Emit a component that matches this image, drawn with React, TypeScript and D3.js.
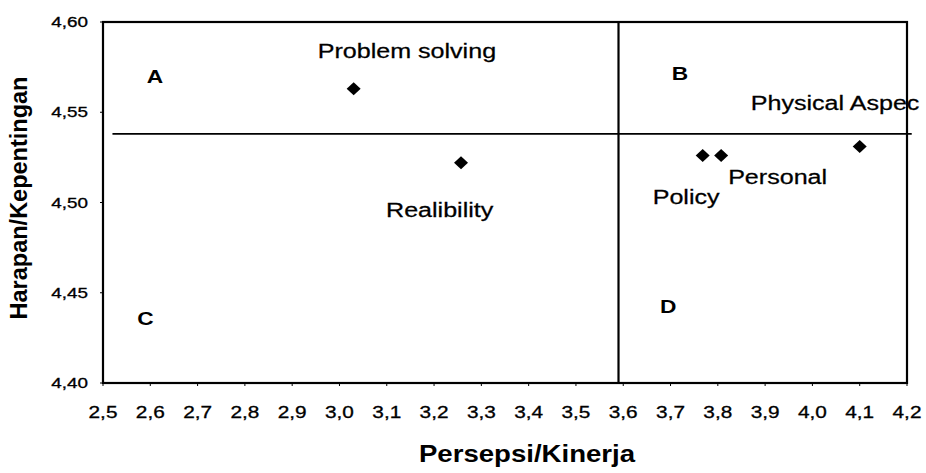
import React from "react";
import * as d3 from "d3";

// ---- data ----
const names = ["Problem solving", "Realibility", "Policy", "Personal", "Physical Aspec"];
const perceptions = [3.03, 3.257, 3.768, 3.807, 4.1];
const expectations = [4.563, 4.522, 4.526, 4.526, 4.531];
const xTicks = [2.5, 2.6, 2.7, 2.8, 2.9, 3.0, 3.1, 3.2, 3.3, 3.4, 3.5, 3.6, 3.7, 3.8, 3.9, 4.0, 4.1, 4.2];
const yTicks = [4.4, 4.45, 4.5, 4.55, 4.6];
const quadrantNames = ["A", "B", "C", "D"];
const meanPerception = 3.59;
const meanExpectation = 4.538;

// ---- layout ----
const W = 926, H = 473;
const M = { left: 103, right: 907, top: 22, bottom: 383 };
const labelOffsets = [
  [-36, -31],
  [-75, 54],
  [-50, 48],
  [7, 28],
  [-109, -37],
];
const quadrantPos = [
  [2.61, 4.566],
  [3.72, 4.568],
  [2.59, 4.432],
  [3.695, 4.439],
];
const FONT = "'Liberation Sans', Arial, Helvetica, sans-serif";
const SX = 1.3;

export default function App() {
  const x = d3.scaleLinear().domain([2.5, 4.2]).range([M.left, M.right]);
  const y = d3.scaleLinear().domain([4.4, 4.6]).range([M.bottom, M.top]);
  const fmtX = (v: number) => d3.format(".1f")(v).replace(".", ",");
  const fmtY = (v: number) => d3.format(".2f")(v).replace(".", ",");

  const diamond = (cx: number, cy: number) => {
    const p = d3.path();
    p.moveTo(cx, cy - 6.5);
    p.lineTo(cx + 7, cy);
    p.lineTo(cx, cy + 6.5);
    p.lineTo(cx - 7, cy);
    p.closePath();
    return p.toString();
  };

  return (
    <svg
      width={W}
      height={H}
      style={{ position: "absolute", left: 0, top: 0, background: "#fff" }}
      fontFamily={FONT}
    >
      <rect x={0} y={0} width={W} height={H} fill="#fff" />
      {/* frame */}
      <rect
        x={M.left}
        y={M.top}
        width={M.right - M.left}
        height={M.bottom - M.top}
        fill="none"
        stroke="#000"
        strokeWidth={2.2}
      />
      {/* reference lines */}
      <line
        x1={x(2.52)}
        x2={x(4.21)}
        y1={y(meanExpectation)}
        y2={y(meanExpectation)}
        stroke="#000"
        strokeWidth={1.6}
      />
      <line
        x1={x(meanPerception)}
        x2={x(meanPerception)}
        y1={M.top}
        y2={M.bottom}
        stroke="#000"
        strokeWidth={2.2}
      />
      {/* x ticks */}
      {xTicks.map((t) => (
        <g key={"xt" + t}>
          <line x1={x(t)} x2={x(t)} y1={M.bottom} y2={M.bottom + 3} stroke="#000" strokeWidth={1} />
          <g transform={`translate(${x(t)},${418}) scale(${SX},1)`}>
            <text textAnchor="middle" fontSize={16} fill="#000" stroke="#000" strokeWidth={0.3}>
              {fmtX(t)}
            </text>
          </g>
        </g>
      ))}
      {/* y ticks */}
      {yTicks.map((t) => (
        <g key={"yt" + t}>
          <line x1={M.left - 3} x2={M.left} y1={y(t)} y2={y(t)} stroke="#000" strokeWidth={1} />
          <g transform={`translate(${88},${y(t) + 5}) scale(${SX},1)`}>
            <text textAnchor="end" fontSize={14.5} fill="#000" stroke="#000" strokeWidth={0.3}>
              {fmtY(t)}
            </text>
          </g>
        </g>
      ))}
      {/* quadrant letters */}
      {quadrantNames.map((q, i) => (
        <g
          key={q}
          transform={`translate(${x(quadrantPos[i][0])},${y(quadrantPos[i][1])}) scale(${SX},1)`}
        >
          <text textAnchor="middle" fontSize={17.5} fontWeight="bold" fill="#000">
            {q}
          </text>
        </g>
      ))}
      {/* points */}
      {names.map((n, i) => (
        <path key={"p" + n} d={diamond(x(perceptions[i]), y(expectations[i]))} fill="#000" />
      ))}
      {/* labels */}
      {names.map((n, i) => (
        <g
          key={"l" + n}
          transform={`translate(${x(perceptions[i]) + labelOffsets[i][0]},${y(expectations[i]) + labelOffsets[i][1]}) scale(${SX},1)`}
        >
          <text fontSize={19.3} fill="#000" stroke="#000" strokeWidth={0.25}>
            {n}
          </text>
        </g>
      ))}
      {/* axis titles */}
      <g transform={`translate(527,462) scale(1.2,1)`}>
        <text textAnchor="middle" fontSize={23} fontWeight="bold" fill="#000">
          Persepsi/Kinerja
        </text>
      </g>
      <g transform={`translate(27,198) rotate(-90)`}>
        <text textAnchor="middle" fontSize={23.5} fontWeight="bold" fill="#000">
          Harapan/Kepentingan
        </text>
      </g>
    </svg>
  );
}
